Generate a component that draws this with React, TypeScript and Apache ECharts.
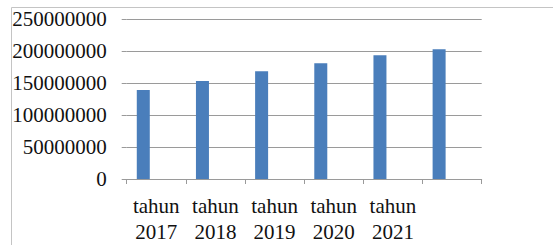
import React, { useEffect, useRef } from "react";
import * as echarts from "echarts";

const categories = ["tahun\n2017", "tahun\n2018", "tahun\n2019", "tahun\n2020", "tahun\n2021", ""];
const values = [139000000, 153300000, 168500000, 181000000, 193200000, 202700000];
const emptySeriesA = [null, null, null, null, null, null];
const emptySeriesB = [null, null, null, null, null, null];
const yTicks = { min: 0, max: 250000000, interval: 50000000 };

export default function App() {
  const ref = useRef<HTMLDivElement>(null);
  useEffect(() => {
    if (!ref.current) return;
    const chart = echarts.init(ref.current, null, { renderer: "svg" });
    const font = "Liberation Serif";
    chart.setOption({
      animation: false,
      backgroundColor: "#ffffff",
      grid: { left: 126.7, right: 71.3, top: 19, bottom: 61.5, containLabel: false },
      graphic: [
        {
          type: "rect",
          shape: { x: 11.5, y: 7.5, width: 600, height: 300 },
          style: { fill: "none", stroke: "#c4c4c4", lineWidth: 1 },
          silent: true,
        },
      ],
      xAxis: {
        type: "category",
        data: categories,
        axisLine: { show: true, lineStyle: { color: "#9a9a9a", width: 1 } },
        axisTick: { show: true, length: 5, alignWithLabel: false, lineStyle: { color: "#9a9a9a" } },
        axisLabel: {
          color: "#111",
          fontFamily: font,
          fontSize: 21,
          lineHeight: 26,
          margin: 14,
          interval: 0,
        },
        splitLine: { show: false },
      },
      yAxis: {
        type: "value",
        min: yTicks.min,
        max: yTicks.max,
        interval: yTicks.interval,
        axisLine: { show: false },
        axisTick: { show: true, length: 5, lineStyle: { color: "#9a9a9a" } },
        axisLabel: {
          color: "#111",
          fontFamily: font,
          fontSize: 21,
          margin: 20,
          formatter: (v: number) => String(v),
        },
        splitLine: { show: true, lineStyle: { color: "#9a9a9a", width: 1 } },
      },
      series: [
        {
          type: "bar",
          data: values,
          barWidth: 13,
          barGap: "0%",
          itemStyle: { color: "#4a7ebb" },
        },
        { type: "bar", data: emptySeriesA, barWidth: 13, barGap: "0%" },
        { type: "bar", data: emptySeriesB, barWidth: 13, barGap: "0%" },
      ],
    });
    return () => chart.dispose();
  }, []);
  return (
    <div
      ref={ref}
      style={{ position: "fixed", left: 0, top: 0, width: 553, height: 245, background: "#fff" }}
    />
  );
}
